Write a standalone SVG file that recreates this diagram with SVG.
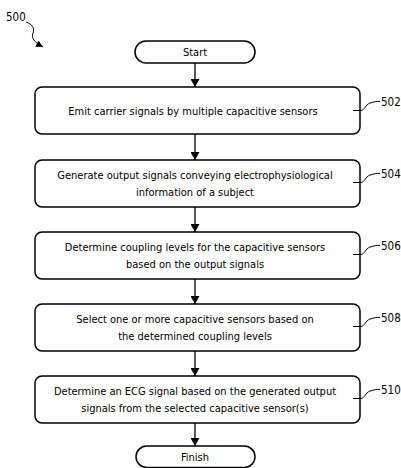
<svg xmlns="http://www.w3.org/2000/svg" width="401" height="468" viewBox="0 0 401 468">
<defs>
<style>
.box{fill:#fff;stroke:#000;stroke-width:1.5}
.t{font-family:"DejaVu Sans Condensed","DejaVu Sans",sans-serif;font-size:11px;fill:#000;text-anchor:middle}
.lbl{font-family:"DejaVu Sans Condensed","DejaVu Sans",sans-serif;font-size:11.5px;fill:#000}
.ln{fill:none;stroke:#000;stroke-width:1.3}
.ld{fill:none;stroke:#000;stroke-width:1}
</style>
<marker id="ah" viewBox="0 0 8 9" refX="8" refY="4.5" markerWidth="8" markerHeight="9" markerUnits="userSpaceOnUse" orient="auto">
<path d="M0,0 L8,4.5 L0,9 Z" fill="#000"/>
</marker>
<marker id="ah2" viewBox="0 0 7 7" refX="7" refY="3.5" markerWidth="7" markerHeight="7" markerUnits="userSpaceOnUse" orient="auto">
<path d="M0,0 L7,3.5 L0,7 Z" fill="#000"/>
</marker>
</defs>
<rect width="401" height="468" fill="#fff"/>

<g id="fig-label">
<text class="lbl" x="6" y="21">500</text>
<path class="ld" d="M26,22 C32,24 35,28 33,33 C31,38 34,42 43,47" marker-end="url(#ah2)"/>
</g>

<g id="connectors">
<line class="ln" x1="195" y1="63" x2="195" y2="87" marker-end="url(#ah)"/>
<line class="ln" x1="195" y1="134" x2="195" y2="160" marker-end="url(#ah)"/>
<line class="ln" x1="195" y1="207" x2="195" y2="232" marker-end="url(#ah)"/>
<line class="ln" x1="195" y1="279" x2="195" y2="304" marker-end="url(#ah)"/>
<line class="ln" x1="195" y1="351" x2="195" y2="376" marker-end="url(#ah)"/>
<line class="ln" x1="195" y1="423" x2="195" y2="446" marker-end="url(#ah)"/>
</g>

<g id="start">
<rect class="box" x="135" y="41" width="120" height="22" rx="11"/>
<text class="t" x="195" y="56">Start</text>
</g>

<g id="step502">
<rect class="box" x="35" y="87" width="325" height="47" rx="7"/>
<text class="t" x="193" y="114.5">Emit carrier signals by multiple capacitive sensors</text>
<path class="ld" d="M353,110.5 L361,110.5 C365,110 365,105 370,103 C374,101.5 377,101.5 380,101.5"/>
<text class="lbl" x="381" y="106">502</text>
</g>

<g id="step504">
<rect class="box" x="35" y="160" width="325" height="47" rx="7"/>
<text class="t" x="195" y="179">Generate output signals conveying electrophysiological</text>
<text class="t" x="195" y="196">information of a subject</text>
<path class="ld" d="M353,182.5 L361,182.5 C365,182 365,177 370,175 C374,173.5 377,173.5 380,173.5"/>
<text class="lbl" x="381" y="178">504</text>
</g>

<g id="step506">
<rect class="box" x="35" y="232" width="325" height="47" rx="7"/>
<text class="t" x="195" y="251">Determine coupling levels for the capacitive sensors</text>
<text class="t" x="195" y="268">based on the output signals</text>
<path class="ld" d="M353,254.5 L361,254.5 C365,254 365,249 370,247 C374,245.5 377,245.5 380,245.5"/>
<text class="lbl" x="381" y="250">506</text>
</g>

<g id="step508">
<rect class="box" x="35" y="304" width="325" height="47" rx="7"/>
<text class="t" x="195" y="323">Select one or more capacitive sensors based on</text>
<text class="t" x="195" y="340">the determined coupling levels</text>
<path class="ld" d="M353,326.5 L361,326.5 C365,326 365,321 370,319 C374,317.5 377,317.5 380,317.5"/>
<text class="lbl" x="381" y="322">508</text>
</g>

<g id="step510">
<rect class="box" x="35" y="376" width="325" height="47" rx="7"/>
<text class="t" x="195" y="395">Determine an ECG signal based on the generated output</text>
<text class="t" x="195" y="412">signals from the selected capacitive sensor(s)</text>
<path class="ld" d="M353,398.5 L361,398.5 C365,398 365,393 370,391 C374,389.5 377,389.5 380,389.5"/>
<text class="lbl" x="381" y="394">510</text>
</g>

<g id="finish">
<rect class="box" x="136" y="446" width="119" height="21.5" rx="10.75"/>
<text class="t" x="195" y="461">Finish</text>
</g>
</svg>
